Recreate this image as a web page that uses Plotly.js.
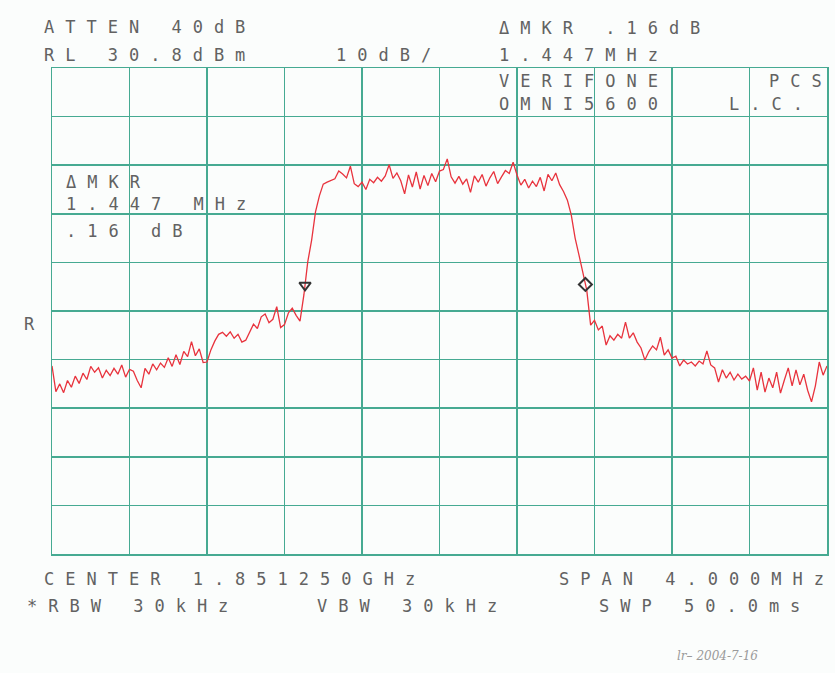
<!DOCTYPE html>
<html>
<head>
<meta charset="utf-8">
<script src="https://cdn.plot.ly/plotly-3.0.1.min.js"></script>
<style>
  html, body { margin: 0; padding: 0; background: #fbfdfc; }
  text.annotation-text { letter-spacing: 11px; }
</style>
</head>
<body>
<div id="chart" style="width:835px;height:673px;"></div>
<script>
// Sweep: center 1.851250 GHz, span 4.000 MHz, 201 trace points
const freqStartMHz = 1849.25;
const freqStepMHz = 0.02;

// Trace amplitude (dBm) (RL 30.8 dBm, 10 dB/div)
const levelDbm = [
  -30.5, -35.8, -34.2, -36.0, -33.5, -34.9, -32.6, -34.1, -32.0, -33.3, -30.6,
  -31.8, -30.9, -33.0, -31.4, -32.5, -31.0, -32.2, -30.3, -32.8, -31.2,
  -31.6, -33.5, -35.0, -31.0, -32.2, -30.1, -31.3, -29.9, -30.8, -28.8,
  -30.6, -28.2, -30.2, -27.5, -28.6, -25.5, -28.4, -27.0, -29.8, -29.7,
  -27.2, -25.4, -24.0, -23.6, -24.4, -23.5, -24.8, -24.0, -25.6, -25.2,
  -23.4, -21.9, -22.8, -20.4, -19.8, -21.6, -20.9, -18.3, -22.6, -22.0,
  -19.6, -18.6, -20.1, -21.3,
  -15.9, -9.1, -4.6, 1.2, 4.5, 6.9, 7.3,
  7.6, 8.0, 9.6, 9.0, 8.2, 10.6, 7.0, 6.4, 7.3, 5.8,
  7.9, 7.2, 8.3, 7.5, 8.6, 10.9, 8.1, 9.2, 7.6, 4.9,
  8.8, 6.3, 9.4, 5.9, 8.7, 6.6, 9.1, 7.4, 9.6, 9.9,
  12.1, 8.4, 7.1, 8.5, 6.9, 8.0, 5.2, 8.6, 7.3, 8.9,
  6.5, 8.2, 9.5, 7.0, 8.4, 9.7, 9.1, 11.4, 8.8, 6.7,
  7.9, 6.1, 7.5, 6.4, 8.3, 5.5, 8.9, 7.6, 9.2, 6.8,
  5.4,
  3.6, 0.6, -4.2, -7.7, -11.2, -14.9, -22.1,
  -21.1, -23.1, -22.3, -26.2, -24.3, -25.2, -24.0, -24.8, -21.5, -24.8,
  -23.7, -25.6, -26.8, -29.3, -27.6, -26.4, -27.2, -24.6, -28.3, -27.2, -28.9,
  -28.5, -30.5, -29.3, -30.1, -29.7, -30.5, -29.5, -30.1, -27.4, -30.3,
  -30.9, -33.8, -31.3, -33.0, -31.8, -33.4, -32.2, -33.2, -32.6, -33.6,
  -30.9, -35.5, -31.8, -35.9, -33.0, -35.0, -31.8, -36.1, -33.4, -30.9,
  -34.6, -31.3, -34.4, -32.2, -35.5, -37.9, -34.6, -29.7, -32.4, -30.5
];

// Markers (reference marker and delta marker: 1.447 MHz, .16 dB)
const markerFreqMHz = [1850.556, 1852.003];
const markerLevelDbm = [-13.90, -13.74];

// Screen annotations
const headerLeft = ["ATTEN 40dB", "RL 30.8dBm", "10dB/"];
const headerRight = ["ΔMKR .16dB", "1.447MHz", "VERIFONE", "PCS", "OMNI5600", "L.C."];
const markerReadout = ["ΔMKR", "1.447 MHz", ".16 dB"];
const refLabel = "R";
const footer = ["CENTER 1.851250GHz", "SPAN 4.000MHz", "*RBW 30kHz", "VBW 30kHz", "SWP 50.0ms"];
const handNote = "lr– 2004-7-16";

// plot area in pixels: left 52, right 827, top 68, bottom 554
const L = 52, R = 827, T = 68, B = 554;
const px = x => (x - L) / (R - L);
const py = y => (B - y) / (B - T);

const txtFont = {family: "DejaVu Sans Mono, monospace", size: 17, color: "#626262"};
function ann(text, x, y, extra) {
  return Object.assign({
    text: text, xref: "paper", yref: "paper", x: px(x), y: py(y),
    xanchor: "left", yanchor: "middle", align: "left", showarrow: false,
    font: txtFont, borderpad: 0
  }, extra || {});
}

const annotations = [
  ann(headerLeft[0], 43, 27),
  ann(headerLeft[1], 43, 55),
  ann(headerLeft[2], 335, 55),
  ann(headerRight[0], 498, 28),
  ann(headerRight[1], 498, 55),
  ann(headerRight[2], 498, 81),
  ann(headerRight[3], 768, 81),
  ann(headerRight[4], 498, 104),
  ann(headerRight[5], 728, 104),
  ann(markerReadout[0], 65, 182),
  ann(markerReadout[1], 65, 204),
  ann(markerReadout[2], 65, 231),
  ann(refLabel, 23, 324),
  ann(footer[0], 43, 579),
  ann(footer[1], 558, 579),
  ann(footer[2], 26, 606),
  ann(footer[3], 316, 606),
  ann(footer[4], 598, 606),
  ann(handNote, 676, 656, {font: {family: "DejaVu Serif, serif", size: 12, color: "#9a9a9a", style: "italic"}})
];

const gridColor = "#46aa92";

const traces = [
  {
    type: "scatter", mode: "lines",
    x0: freqStartMHz, dx: freqStepMHz, y: levelDbm,
    line: {color: "#e8333d", width: 1.3},
    hoverinfo: "skip"
  },
  {
    type: "scatter", mode: "markers",
    x: markerFreqMHz, y: markerLevelDbm,
    marker: {symbol: ["triangle-down-open", "diamond-open"], size: 10,
             color: "#333333", line: {color: "#333333", width: 2}},
    hoverinfo: "skip"
  }
];

const layout = {
  width: 835, height: 673,
  margin: {l: L, r: 835 - R, t: T, b: 673 - B, pad: 0},
  paper_bgcolor: "#fbfdfc", plot_bgcolor: "#fbfdfc",
  showlegend: false,
  xaxis: {
    range: [1849.25, 1853.25], tick0: 1849.25, dtick: 0.4,
    showgrid: true, gridcolor: gridColor, gridwidth: 1.5,
    zeroline: false, showticklabels: false, ticks: "",
    showline: true, linecolor: gridColor, linewidth: 1.5, mirror: true, fixedrange: true
  },
  yaxis: {
    range: [-69.2, 30.8], tick0: 30.8, dtick: 10,
    showgrid: true, gridcolor: gridColor, gridwidth: 1.5,
    zeroline: false, showticklabels: false, ticks: "",
    showline: true, linecolor: gridColor, linewidth: 1.5, mirror: true, fixedrange: true
  },
  annotations: annotations
};

Plotly.newPlot("chart", traces, layout, {displayModeBar: false, staticPlot: true}).then(gd => {
  gd.querySelectorAll("text.annotation-text").forEach(t => {
    if (t.textContent.indexOf("2004") >= 0) t.style.letterSpacing = "0px";
  });
});
</script>
</body>
</html>
